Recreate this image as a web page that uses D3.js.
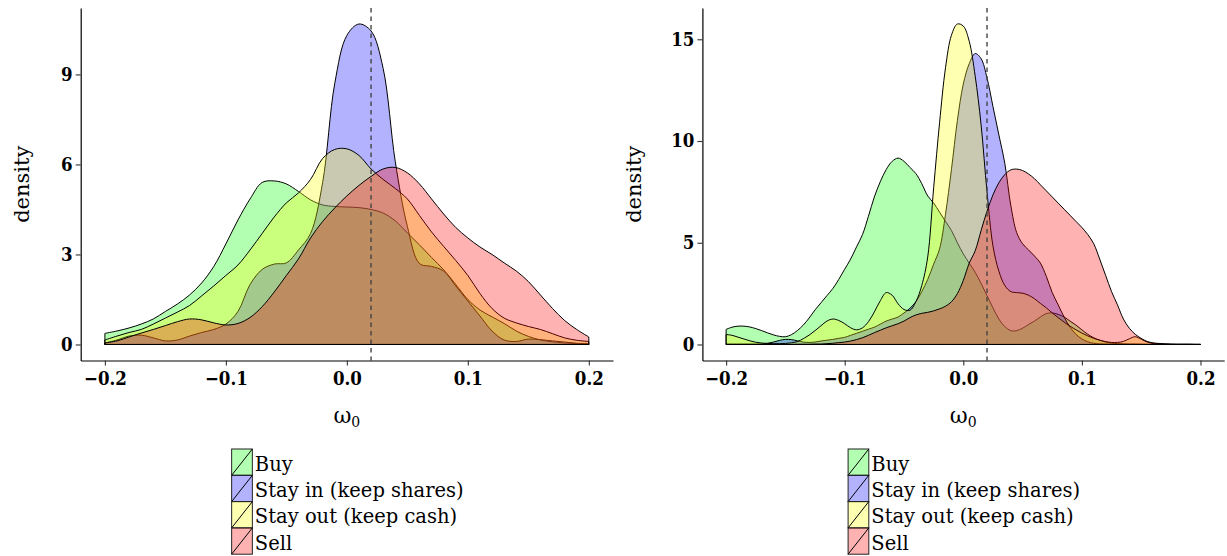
<!DOCTYPE html>
<html>
<head>
<meta charset="utf-8">
<script src="https://cdn.jsdelivr.net/npm/d3@7"></script>
<style>
  body { margin: 0; background: #fff; }
  text { font-family: "DejaVu Serif", serif; fill: #000; }
</style>
</head>
<body>
<script>
// groups and fill colours (fill alpha is applied when drawing)
var categories = ["Buy", "Stay in (keep shares)", "Stay out (keep cash)", "Sell"];
var fillColors = ["#00ff00", "#0000ff", "#ffff00", "#ff0000"];

// x axis
var xTicks = [-0.2, -0.1, 0.0, 0.1, 0.2];
var xTickLabels = ["\u22120.2", "\u22120.1", "0.0", "0.1", "0.2"];
var refLine = 0.02;

// y axes
var leftYTicks = [0, 3, 6, 9];
var rightYTicks = [0, 5, 10, 15];

// density evaluation grids (-0.2 .. 0.2)
var leftGrid = d3.range(41).map(function(i) { return +(-0.2 + i * 0.01).toFixed(3); });
var rightGrid = d3.range(81).map(function(i) { return +(-0.2 + i * 0.005).toFixed(3); });

// left panel densities, step 0.01
var leftBuy = [0.37,0.45,0.55,0.68,0.85,1.1,1.35,1.65,2.05,2.6,3.35,4.15,4.85,5.4,5.45,5.35,5.1,4.82,4.65,4.6,4.58,4.56,4.5,4.38,4.12,3.72,3.32,2.9,2.49,2.0,1.5,1.15,0.92,0.7,0.45,0.27,0.15,0.09,0.05,0.03,0.02];
var leftStayIn = [0.05,0.15,0.28,0.31,0.22,0.12,0.15,0.28,0.4,0.5,0.68,1.1,2.0,2.5,2.68,2.72,3.15,3.7,5.4,8.7,10.3,10.68,10.45,9.2,6.1,3.94,2.7,2.6,2.45,1.95,1.45,0.95,0.45,0.15,0.1,0.18,0.16,0.12,0.08,0.04,0.02];
var leftStayOut = [0.15,0.28,0.4,0.5,0.68,0.88,1.08,1.3,1.62,1.95,2.3,2.65,3.15,3.7,4.25,4.72,5.05,5.5,6.2,6.5,6.52,6.3,5.85,5.5,5.2,4.85,4.3,3.75,3.27,2.8,2.3,1.7,1.2,0.88,0.72,0.6,0.5,0.36,0.22,0.14,0.1];
var leftSell = [0.05,0.12,0.25,0.38,0.5,0.63,0.76,0.85,0.82,0.72,0.65,0.7,0.9,1.26,1.75,2.3,2.85,3.55,4.1,4.55,4.95,5.3,5.6,5.85,5.9,5.72,5.35,4.85,4.35,3.9,3.55,3.25,3.0,2.72,2.45,2.1,1.65,1.2,0.8,0.5,0.25];

// right panel densities, step 0.005
var rightBuy = [0.74,0.85,0.9,0.9,0.86,0.78,0.68,0.57,0.47,0.4,0.38,0.48,0.68,0.95,1.3,1.7,2.05,2.4,2.75,3.2,3.7,4.2,4.8,5.4,6.3,7.25,8.0,8.6,9.0,9.16,9.0,8.7,8.4,7.9,7.3,6.95,6.5,6.05,5.6,5.0,4.45,4.0,3.55,3.0,2.4,1.8,1.25,0.88,0.68,0.68,0.8,0.98,1.15,1.35,1.52,1.55,1.48,1.35,1.15,0.95,0.72,0.5,0.33,0.21,0.12,0.07,0.04,0.03,0.02,0.02,0.01,0.01,0.01,0.01,0,0,0,0,0,0,0];
var rightStayIn = [0.02,0.02,0.02,0.02,0.02,0.02,0.03,0.06,0.12,0.2,0.25,0.24,0.18,0.12,0.1,0.12,0.17,0.21,0.25,0.3,0.35,0.45,0.55,0.65,0.75,0.85,1.0,1.15,1.25,1.35,1.55,1.78,2.1,2.6,3.2,3.95,4.7,6.4,8.6,11.0,12.8,13.8,14.3,14.05,13.1,11.7,10.3,8.9,6.85,5.5,4.95,4.65,4.35,4.0,3.35,2.55,1.95,1.35,0.85,0.5,0.27,0.13,0.06,0.03,0.02,0.02,0.02,0.01,0.01,0.01,0.01,0,0,0,0,0,0,0,0,0,0];
var rightStayOut = [0.49,0.45,0.36,0.27,0.18,0.11,0.07,0.05,0.04,0.04,0.05,0.08,0.14,0.28,0.46,0.68,0.92,1.15,1.25,1.18,1.02,0.82,0.72,0.82,1.12,1.6,2.15,2.55,2.42,2.0,1.72,1.68,2.1,2.9,4.3,7.7,10.9,13.6,15.2,15.75,15.65,14.9,13.2,10.8,7.5,4.85,3.6,2.9,2.6,2.55,2.52,2.42,2.25,2.02,1.8,1.55,1.32,1.1,0.9,0.72,0.56,0.42,0.3,0.21,0.14,0.1,0.1,0.15,0.28,0.38,0.26,0.12,0.05,0.03,0.02,0.01,0.01,0.01,0.01,0.01,0.01];
var rightSell = [0,0,0,0,0,0,0,0,0,0,0,0,0.01,0.01,0.01,0.02,0.02,0.04,0.06,0.09,0.12,0.17,0.24,0.33,0.45,0.58,0.7,0.82,0.92,1.02,1.15,1.32,1.45,1.53,1.58,1.65,1.75,1.88,2.1,2.5,3.15,4.0,4.6,5.6,6.55,7.35,7.95,8.35,8.58,8.62,8.55,8.38,8.15,7.85,7.55,7.25,6.95,6.65,6.35,6.05,5.75,5.4,4.95,4.2,3.4,2.6,1.95,1.25,0.8,0.5,0.3,0.15,0.08,0.05,0.03,0.02,0.01,0.01,0.01,0,0];

// global layout properties
var p = {
    width: 1227,
    height: 556,
    top: 8,
    bottom: 360.5,
    fillAlpha: 0.3,
    tickSize: 5,
    tickFont: 18.5,
    titleFont: 21,
    legendFont: 19.5,
    keyW: 20.7,
    keyH: 26.3,
    legendTop: 449,
};

var svg = d3.select("body").append("svg")
    .attr("width", p.width)
    .attr("height", p.height);

function drawPanel(cfg) {
    var g = svg.append("g");

    var x = d3.scaleLinear().domain([-0.22, 0.22]).range([cfg.left, cfg.right]);
    // ggplot style 5% expansion on the density range
    var maxD = d3.max(cfg.series, function(s) { return d3.max(s); });
    var y = d3.scaleLinear().domain([-maxD * 0.05, maxD * 1.05]).range([p.bottom, p.top]);

    var area = d3.area()
        .x(function(d, i) { return x(cfg.grid[i]); })
        .y0(y(0))
        .y1(function(d) { return y(d); })
        .curve(d3.curveCatmullRom.alpha(0.5));

    // densities, drawn in group order so later ones cover earlier outlines
    cfg.series.forEach(function(s, i) {
        g.append("path")
            .attr("d", area(s))
            .attr("fill", fillColors[i])
            .attr("fill-opacity", p.fillAlpha)
            .attr("stroke", "#000")
            .attr("stroke-width", 1)
            .attr("stroke-linejoin", "round");
    });

    // reference line
    g.append("line")
        .attr("x1", x(refLine)).attr("x2", x(refLine))
        .attr("y1", p.top).attr("y2", p.bottom)
        .attr("stroke", "#444")
        .attr("stroke-width", 1.4)
        .attr("stroke-dasharray", "4.5,4");

    // x axis
    var xAxis = g.append("g")
        .attr("transform", "translate(0," + p.bottom + ")")
        .call(d3.axisBottom(x).tickValues(xTicks)
            .tickFormat(function(d, i) { return xTickLabels[i]; })
            .tickSize(p.tickSize).tickSizeOuter(0).tickPadding(6.5));

    // y axis
    var yAxis = g.append("g")
        .attr("transform", "translate(" + cfg.left + ",0)")
        .call(d3.axisLeft(y).tickValues(cfg.yTicks)
            .tickSize(p.tickSize).tickSizeOuter(0).tickPadding(3));

    [xAxis, yAxis].forEach(function(a) {
        a.select(".domain").attr("stroke", "#000").attr("stroke-width", 1.2);
        a.selectAll(".tick line").attr("stroke", "#333").attr("stroke-width", 1.1);
        a.selectAll("text")
            .style("font-family", "'DejaVu Serif Condensed', 'DejaVu Serif', serif")
            .style("font-weight", "bold")
            .style("font-size", p.tickFont + "px")
            .attr("fill", "#111");
    });

    // axis titles
    var cx = (cfg.left + cfg.right) / 2;
    var xt = g.append("text")
        .attr("x", cx)
        .attr("y", 423)
        .attr("text-anchor", "middle")
        .style("font-size", "22px");
    xt.append("tspan").text("\u03c9");
    xt.append("tspan").attr("dy", 4).style("font-size", "14px").text("0");

    g.append("text")
        .attr("transform", "translate(" + cfg.yTitleX + "," + ((p.top + p.bottom) / 2) + ") rotate(-90)")
        .attr("text-anchor", "middle")
        .style("font-size", p.titleFont + "px")
        .text("density");

    // legend below the panel
    var keyLeft = cx - 115.2;
    var legend = g.append("g");
    categories.forEach(function(c, i) {
        var ky = p.legendTop + i * p.keyH;
        legend.append("rect")
            .attr("x", keyLeft).attr("y", ky)
            .attr("width", p.keyW).attr("height", p.keyH)
            .attr("fill", fillColors[i])
            .attr("fill-opacity", p.fillAlpha)
            .attr("stroke", "#222")
            .attr("stroke-width", 1);
        legend.append("line")
            .attr("x1", keyLeft).attr("y1", ky + p.keyH)
            .attr("x2", keyLeft + p.keyW).attr("y2", ky)
            .attr("stroke", "#000")
            .attr("stroke-width", 1);
        legend.append("text")
            .attr("x", keyLeft + p.keyW + 2.5)
            .attr("y", ky + 21.7)
            .style("font-size", p.legendFont + "px")
            .text(c);
    });
}

// left panel
drawPanel({
    left: 80.7,
    right: 613,
    grid: leftGrid,
    series: [leftBuy, leftStayIn, leftStayOut, leftSell],
    yTicks: leftYTicks,
    yTitleX: 28.5,
});

// right panel
drawPanel({
    left: 702.4,
    right: 1224.2,
    grid: rightGrid,
    series: [rightBuy, rightStayIn, rightStayOut, rightSell],
    yTicks: rightYTicks,
    yTitleX: 641,
});
</script>
</body>
</html>
